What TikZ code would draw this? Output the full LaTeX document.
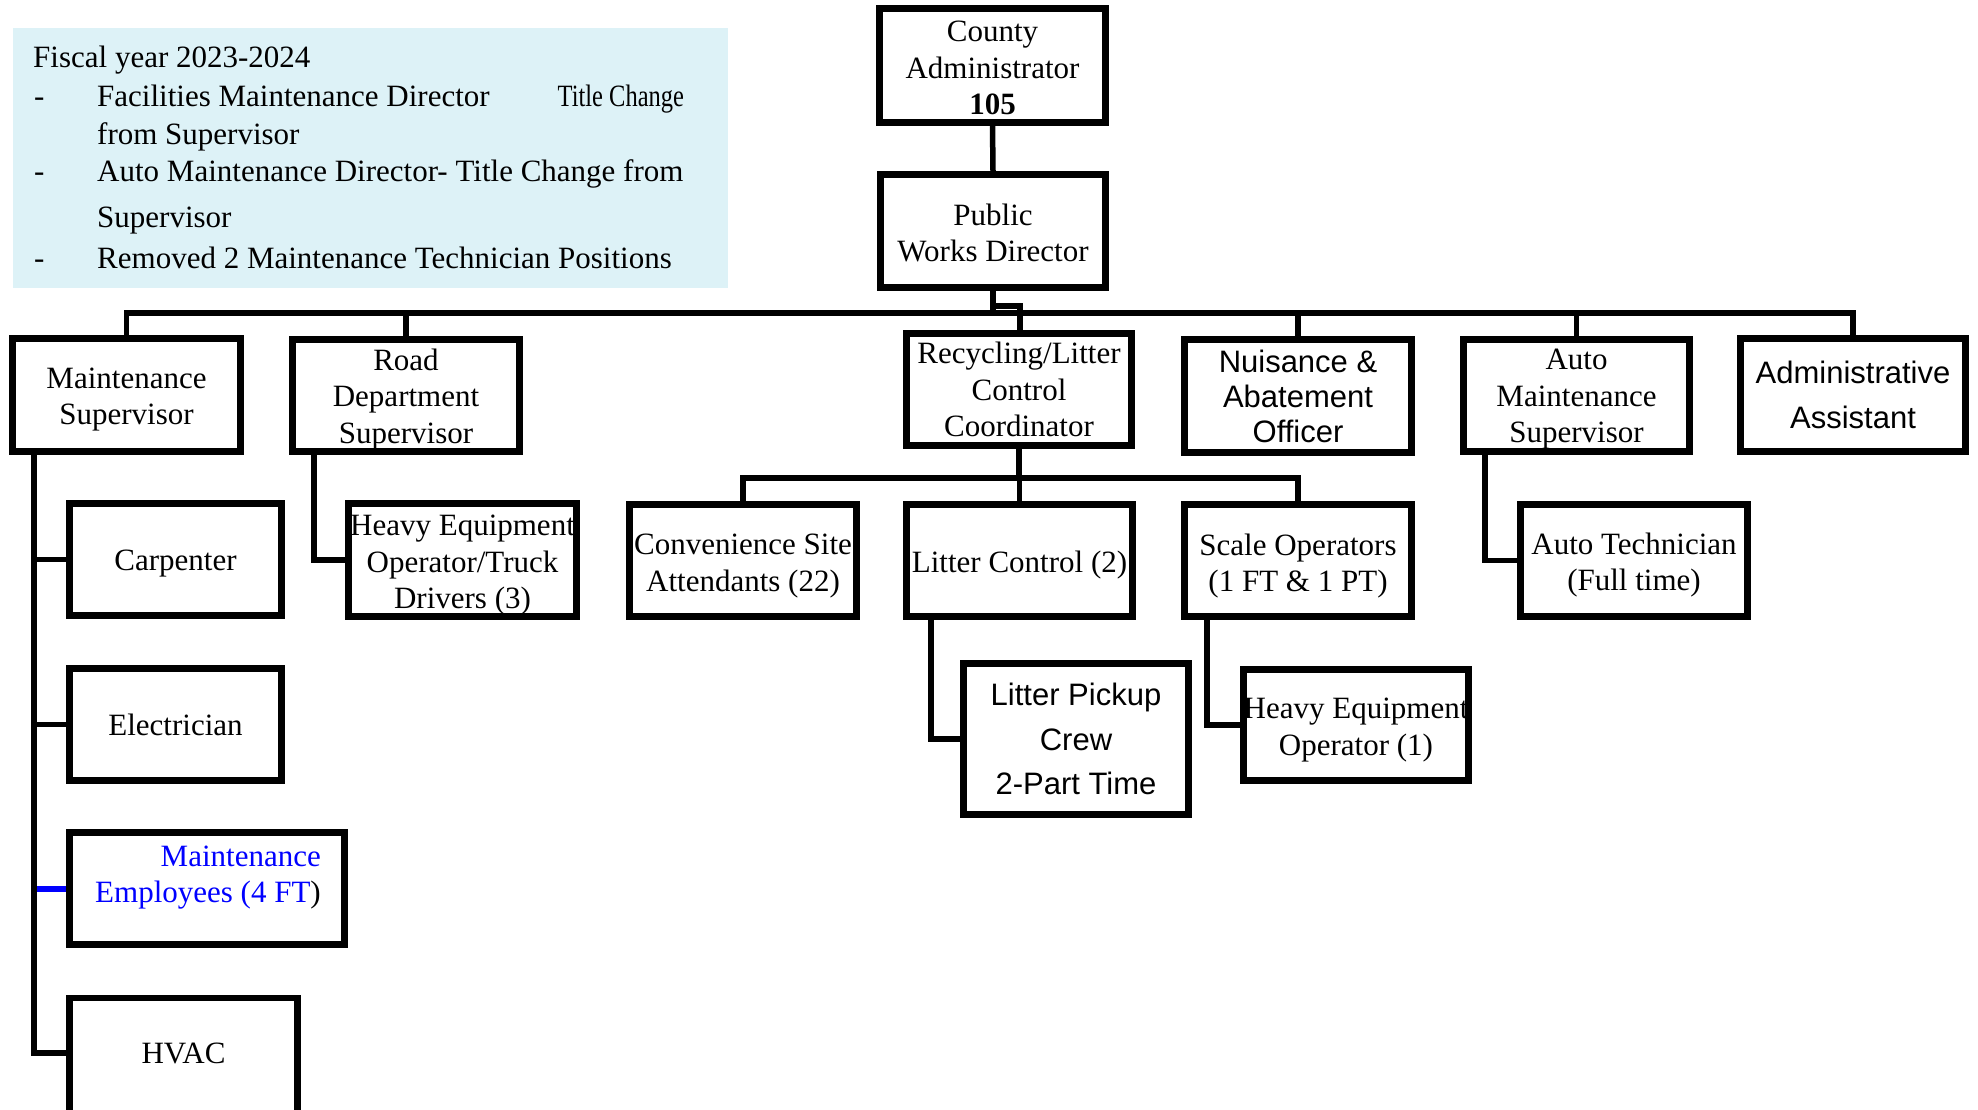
\documentclass[tikz,border=0pt]{standalone}
\usepackage{fontspec}
\usepackage{graphicx}
\setmainfont{Liberation Serif}
\newfontfamily\arialfam{Liberation Sans}
\usetikzlibrary{calc}
\definecolor{legendbg}{HTML}{DDF2F7}
\definecolor{empblue}{RGB}{0,0,255}
\newcommand\fTR{\fontsize{31}{36.5}\selectfont}
\newcommand\fAR{\arialfam\fontsize{31}{35}\selectfont}
\newcommand\fARw{\arialfam\fontsize{31}{44.5}\selectfont}
\begin{document}
\begin{tikzpicture}[x=1pt,y=-1pt,
  box/.style={draw=black, line width=6.5pt, inner sep=0pt},
  txt/.style={inner sep=0pt, align=center, font=\fTR},
  edge/.style={draw=black, line width=5.5pt},
  leg/.style={anchor=base west, inner sep=0pt, font=\fontsize{31}{36}\selectfont},
  ]
\useasboundingbox (0,0) rectangle (1978,1110);
\clip (0,0) rectangle (1978,1110);

% legend
\fill[legendbg] (13,28) rectangle (728,288);
\node[leg] (l0) at (33,68) {Fiscal year 2023-2024};
\node[leg] (d1) at (34,107) {-};
\node[leg] (l1) at (97,107) {Facilities Maintenance Director\hspace{68pt}\scalebox{0.79}[1]{Title Change}};
\node[leg] (l1b) at (97,145) {from Supervisor};
\node[leg] (d2) at (34,182) {-};
\node[leg] (l2) at (97,182) {Auto Maintenance Director- Title Change from};
\node[leg] (l2b) at (97,228) {Supervisor};
\node[leg] (d3) at (34,268) {-};
\node[leg] (l3) at (97,268) {Removed 2 Maintenance Technician Positions};

% top
\node[box, minimum width=226pt, minimum height=114pt] (ca) at (992.5,65.5) {};
\node[txt] (caT) at ($(ca.center)+(0,2.5)$) {County\\Administrator\\\textbf{105}};
\node[box, minimum width=225pt, minimum height=113pt] (pwd) at (993,231) {};
\node[txt] (pwdT) at ($(pwd.center)+(0,2)$) {Public\\Works Director};

% level 2
\node[box, minimum width=228pt, minimum height=113pt] (ms) at (126.5,395) {};
\node[txt] (msT) at ($(ms.center)+(0,4.5)$) {Maintenance\\Supervisor};
\node[box, minimum width=227pt, minimum height=112pt] (rd) at (406,395.5) {};
\node[txt] (rdT) at ($(rd.center)+(0,4)$) {Road\\Department\\Supervisor};
\node[box, minimum width=225pt, minimum height=112pt] (rec) at (1019,389.5) {};
\node[txt] (recT) at (rec.center) {Recycling/Litter\\Control\\Coordinator};
\node[box, minimum width=227pt, minimum height=113pt] (nui) at (1298,396) {};
\node[txt, font=\fAR] (nuiT) at (nui.center) {Nuisance \&\\Abatement\\Officer};
\node[box, minimum width=226pt, minimum height=112pt] (am) at (1576.5,395.5) {};
\node[txt] (amT) at ($(am.center)+(0,4)$) {Auto\\Maintenance\\Supervisor};
\node[box, minimum width=225pt, minimum height=113pt] (adm) at (1853,395) {};
\node[txt, font=\fARw] (admT) at (adm.center) {Administrative\\Assistant};

% level 3
\node[box, minimum width=212pt, minimum height=112pt] (carp) at (175.5,559.5) {};
\node[txt] (carpT) at ($(carp.center)+(0,4)$) {Carpenter};
\node[box, minimum width=212pt, minimum height=112pt] (elec) at (175.5,724.5) {};
\node[txt] (elecT) at (elec.center) {Electrician};
\node[box, minimum width=275pt, minimum height=112pt] (memp) at (207,888.5) {};
\node[txt, align=right] (mempT) at ($(memp.center)+(1,-11)$)
  {\textcolor{empblue}{Maintenance}\\\textcolor{empblue}{Employees (4 FT})};
\node[inner sep=0pt, minimum width=228pt, minimum height=110pt] (hvac) at (183.5,1053) {};
\node[txt] (hvacT) at (hvac.center) {HVAC};
\draw[line width=6.5pt] ($(hvac.south west)+(0,40)$) -- (hvac.north west) -- (hvac.north east) -- ($(hvac.south east)+(0,40)$);

\node[box, minimum width=228pt, minimum height=113pt] (heo) at (462.5,560) {};
\node[txt] (heoT) at ($(heo.center)+(0,5.5)$) {Heavy Equipment\\Operator/Truck\\Drivers (3)};
\node[box, minimum width=227pt, minimum height=112pt] (conv) at (743,560.5) {};
\node[txt] (convT) at ($(conv.center)+(0,5.5)$) {Convenience Site\\Attendants (22)};
\node[box, minimum width=226pt, minimum height=112pt] (lc) at (1019.5,560.5) {};
\node[txt] (lcT) at ($(lc.center)+(0,5)$) {Litter Control (2)};
\node[box, minimum width=227pt, minimum height=112pt] (scale) at (1298,560.5) {};
\node[txt] (scaleT) at ($(scale.center)+(0,5.5)$) {Scale Operators\\(1 FT \& 1 PT)};
\node[box, minimum width=227pt, minimum height=112pt] (at) at (1634,560.5) {};
\node[txt] (atT) at ($(at.center)+(0,4.5)$) {Auto Technician\\(Full time)};

% level 4
\node[box, minimum width=225pt, minimum height=151pt] (lpc) at (1076,739) {};
\node[txt, font=\fARw] (lpcT) at (lpc.center) {Litter Pickup\\Crew\\2-Part Time};
\node[box, minimum width=225pt, minimum height=111pt] (heo1) at (1356,725) {};
\node[txt] (heo1T) at ($(heo1.center)+(0,5)$) {Heavy Equipment\\Operator (1)};

% helper coordinates
\coordinate (bus) at (0,313);
\coordinate (jog) at (1020,306);
\coordinate (rbus) at (0,478);
\coordinate (mx) at (34,0);
\coordinate (rx) at (314,0);
\coordinate (lx) at (931,0);
\coordinate (sx) at (1207,0);
\coordinate (ax) at (1485,0);

% connectors
\draw[edge] (ca.south) -- (pwd.north);
\draw[edge] (pwd.south) -- (pwd.south |- bus);
\draw[edge] (pwd.south |- jog) -- (jog) -- (jog |- rec.north);
\draw[edge] (ms.north) -- (ms.north |- bus) -- (adm.north |- bus) -- (adm.north);
\draw[edge] (rd.north |- bus) -- (rd.north);
\draw[edge] (nui.north |- bus) -- (nui.north);
\draw[edge] (am.north |- bus) -- (am.north);

\draw[edge] (rec.south) -- (rec.south |- rbus);
\draw[edge] (conv.north) -- (conv.north |- rbus) -- (scale.north |- rbus) -- (scale.north);
\draw[edge] (lc.north |- rbus) -- (lc.north);

\draw[edge, draw=empblue, line width=6pt] (memp.west -| mx) -- (memp.west);
\draw[edge] (ms.south -| mx) -- (hvac.west -| mx) -- (hvac.west);
\draw[edge] (carp.west -| mx) -- (carp.west);
\draw[edge] (elec.west -| mx) -- (elec.west);

\draw[edge] (rd.south -| rx) -- (heo.west -| rx) -- (heo.west);
\draw[edge] (lc.south -| lx) -- (lpc.west -| lx) -- (lpc.west);
\draw[edge] (scale.south -| sx) -- (heo1.west -| sx) -- (heo1.west);
\draw[edge] (am.south -| ax) -- (at.west -| ax) -- (at.west);
\end{tikzpicture}
\end{document}
